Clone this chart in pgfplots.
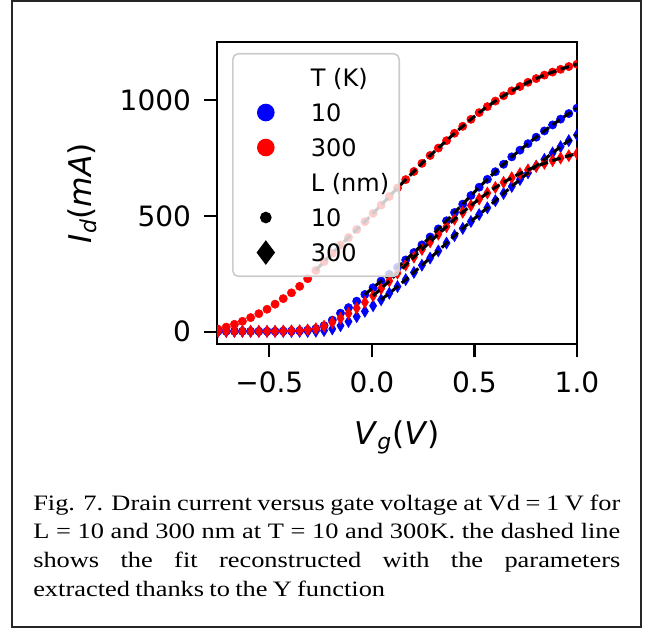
\documentclass[border=0pt]{standalone}
\usepackage{fontspec}
\setmainfont{DejaVu Sans}
\newfontfamily\capfont{Liberation Serif}
\usepackage{graphicx}
\usepackage{pgfplots}
\pgfplotsset{compat=1.18}
\usepackage{pgfplotstable}

% x: gate voltage (V); bc: T=10 L=10; rc: T=300 L=10; bd: T=10 L=300; rd: T=300 L=300
\pgfplotstableread{
x bc rc bd rd
-0.750 2 11 1 2
-0.710 2 20 1 2
-0.670 2 32 1 2
-0.631 2 45 1 2
-0.591 2 61 1 2
-0.551 2 78 1 2
-0.511 2 97 1 2
-0.472 2 119 1 2
-0.432 3 143 1 3
-0.392 3 168 1 4
-0.352 4 196 1 5
-0.313 7 229 1 8
-0.273 13 265 2 13
-0.233 26 303 5 24
-0.193 50 339 12 40
-0.153 80 374 26 58
-0.114 104 407 44 79
-0.074 132 441 65 102
-0.034 161 475 88 127
0.006 190 511 112 155
0.045 219 547 138 186
0.085 248 584 166 219
0.125 278 621 195 253
0.165 310 657 225 288
0.205 342 692 256 322
0.244 375 727 287 355
0.284 409 761 318 388
0.324 444 793 349 421
0.364 479 825 383 454
0.403 515 857 415 486
0.443 551 887 446 516
0.483 588 917 476 545
0.523 624 946 506 573
0.563 658 972 535 599
0.602 691 996 566 623
0.642 723 1019 597 645
0.682 755 1040 627 665
0.722 784 1059 657 683
0.761 812 1077 686 699
0.801 840 1093 715 714
0.841 867 1108 744 727
0.881 893 1121 772 739
0.920 918 1133 799 750
0.960 942 1145 825 760
1.000 965 1155 850 769
}\data

\pgfplotsset{
  mylegimg/.style={legend image code/.code={%
    \path[draw=none, fill=none] (-17.25pt,-9pt) rectangle (10pt,9pt);
    \draw[##1, sharp corners, fill opacity=1, draw opacity=1] plot coordinates {(0pt,0pt)};}},
  fitline/.style={black, line width=2.3pt, dash pattern=on 6.5pt off 3.5pt, forget plot, mark=none},
}

\begin{document}
\begin{tikzpicture}
\path (0pt,0pt) rectangle (483.75pt,471.75pt);
\draw[line width=1.2pt, black!85] (9pt,1.5pt) rectangle (480.75pt,471pt);
\begin{axis}[
  at={(162.75pt,213.75pt)}, anchor=south west,
  scale only axis, width=270pt, height=226.5pt,
  xmin=-0.755, xmax=1.0, ymin=-53, ymax=1251,
  clip marker paths=true,
  axis line style={line width=1.6pt},
  every tick/.style={line width=1.6pt, black},
  tick align=outside, major tick length=10pt,
  xtick pos=bottom, ytick pos=left,
  xtick={-0.5,0,0.5,1}, xticklabels={−0.5,0.0,0.5,1.0},
  ytick={0,500,1000}, yticklabels={0,500,1000},
  tick label style={font=\fontsize{21}{25}\selectfont},
  xticklabel style={yshift=-7.5pt},
  yticklabel style={xshift=-6pt},
  xlabel={\textit{V}\textsubscript{\textit{g}}(\textit{V})},
  ylabel={\textit{I}\textsubscript{\textit{d}}(\textit{mA})},
  xlabel style={at={(axis description cs:0.5,-0.2517)}, anchor=north, inner sep=0pt, font=\fontsize{23.5}{28}\selectfont},
  ylabel style={at={(axis description cs:-0.3333,0.5)}, anchor=south, inner sep=0pt, font=\fontsize{23.5}{28}\selectfont},
  legend cell align=left,
  legend style={at={(axis description cs:0.0417,0.9636)}, anchor=north west,
    draw=black!20, line width=1.2pt, rounded corners=4pt,
    fill=white, fill opacity=0.8, text opacity=1,
    inner xsep=7.5pt, inner ysep=8.8pt,
    row sep=8.25pt, column sep=23.8pt,
    font=\fontsize{18}{21.6}\selectfont,
    nodes={inner sep=0pt, text height=15.57pt, text depth=2.43pt}},
]
\addplot[only marks, mark=*, mark size=3.1pt, blue, forget plot] table[x=x,y=bc]{\data};
\addplot[only marks, mark=*, mark size=3.1pt, red, forget plot] table[x=x,y=rc]{\data};
\addplot[only marks, mark=diamond*, mark size=4.5pt, mark options={xscale=0.8}, blue, forget plot] table[x=x,y=bd]{\data};
\addplot[only marks, mark=diamond*, mark size=4.5pt, mark options={xscale=0.8}, red, forget plot] table[x=x,y=rd]{\data};
\addplot[fitline, restrict x to domain=-0.3:1] table[x=x,y=rc]{\data};
\addplot[fitline, restrict x to domain=-0.05:1] table[x=x,y=bc]{\data};
\addplot[fitline, restrict x to domain=0.0:1] table[x=x,y=rd]{\data};
\addplot[fitline, restrict x to domain=0.04:1] table[x=x,y=bd]{\data};

\addlegendimage{empty legend}\addlegendentry{T (K)}
\addlegendimage{mylegimg, only marks, mark=*, blue, mark size=6pt}\addlegendentry{10}
\addlegendimage{mylegimg, only marks, mark=*, red, mark size=6pt}\addlegendentry{300}
\addlegendimage{empty legend}\addlegendentry{L (nm)}
\addlegendimage{mylegimg, only marks, mark=*, black, mark size=3.75pt}\addlegendentry{10}
\addlegendimage{mylegimg, only marks, mark=diamond*, black, mark size=8.25pt}\addlegendentry{300}
\end{axis}
\node[anchor=base west, inner sep=0pt] at (24.75pt,89.25pt) {\scalebox{1.2}[1]{\parbox[t]{366.9pt}{\capfont\fontsize{16.5pt}{21.5pt}\selectfont
\spaceskip=0.2em plus 0.3em minus 0.06em\relax
Fig. 7. Drain current versus gate voltage at Vd = 1 V for\linebreak
L = 10 and 300 nm at T = 10 and 300K. the dashed line\linebreak
shows the fit reconstructed with the parameters\linebreak
extracted thanks to the Y function}}};
\end{tikzpicture}
\end{document}
